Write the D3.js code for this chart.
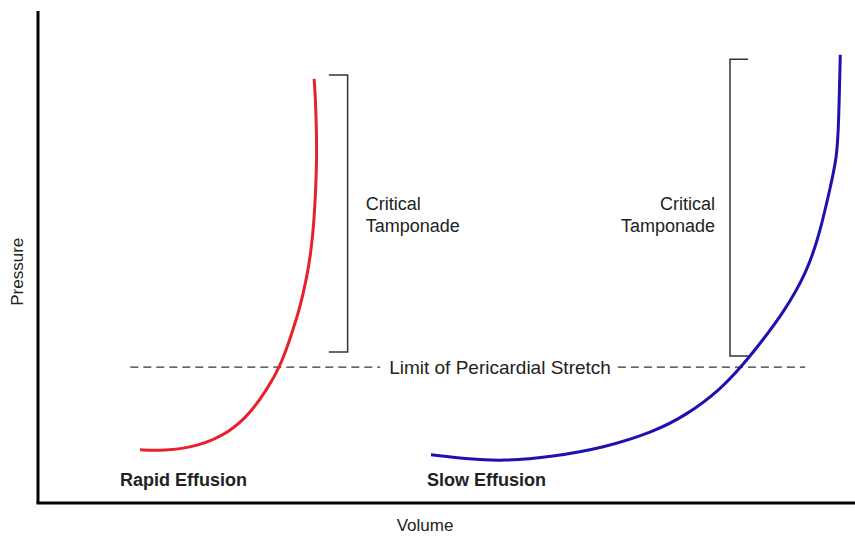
<!DOCTYPE html>
<html>
<head>
<meta charset="utf-8">
<script src="https://cdn.jsdelivr.net/npm/d3@7"></script>
<style>
  body { margin: 0; background: #fff; }
  text { font-family: "Liberation Sans", Arial, sans-serif; fill: #222; }
</style>
</head>
<body>
<svg id="chart" width="855" height="536"></svg>
<script>
// pressure-volume curves, volume and pressure on a 0-100 scale
let rapidVolume   = [12.5, 15.3, 19.5, 23.5, 26.0, 28.0, 29.6, 30.8, 32.1, 32.9, 33.4, 33.8, 34.0, 34.15, 34.0, 33.8];
let rapidPressure = [10.8, 10.6, 11.4, 14.4, 18.3, 23.0, 27.6, 33.1, 39.8, 45.9, 50.8, 57.5, 64.2, 71.1, 81.3, 86.2];

let slowVolume   = [48.1, 52.9, 56.9, 63.0, 69.2, 75.3, 79.4, 83.5, 86.3, 88.7, 91.2, 94.1, 95.7, 96.9, 97.8, 98.0, 98.2];
let slowPressure = [9.8, 8.9, 8.5, 9.4, 11.2, 14.4, 17.9, 23.0, 28.1, 33.1, 38.6, 46.8, 54.9, 63.6, 70.3, 77.2, 91.1];

// limit of pericardial stretch
let stretchLimit = 27.6;
let stretchExtent = [11.3, 93.9];

// critical tamponade brackets: [volume, pressure low, pressure high, tick volume]
let rapidBracket = [37.9, 30.7, 87.0, 35.6];
let slowBracket  = [84.7, 29.9, 90.2, 86.9];

let svg = d3.select("#chart");

let x = d3.scaleLinear().domain([0, 100]).range([38, 855]);
let y = d3.scaleLinear().domain([0, 100]).range([503, 11]);

// axes (no ticks)
svg.append("line")
  .attr("x1", x(0)).attr("x2", x(0))
  .attr("y1", y(100)).attr("y2", y(0))
  .style("stroke", "#000").style("stroke-width", 3);
svg.append("line")
  .attr("x1", x(0) - 1.5).attr("x2", x(100))
  .attr("y1", y(0)).attr("y2", y(0))
  .style("stroke", "#000").style("stroke-width", 3);

svg.append("text")
  .attr("transform", "translate(23," + y(47) + ") rotate(-90)")
  .attr("text-anchor", "middle")
  .style("font-size", "17px")
  .text("Pressure");
svg.append("text")
  .attr("x", 425).attr("y", 531)
  .attr("text-anchor", "middle")
  .style("font-size", "17px")
  .text("Volume");

// dashed stretch line, broken around its label
let label = svg.append("text")
  .attr("x", 500).attr("y", y(stretchLimit) + 7)
  .attr("text-anchor", "middle")
  .style("font-size", "19px")
  .text("Limit of Pericardial Stretch");
let bb = label.node().getBBox();

[[x(stretchExtent[0]), bb.x - 9], [bb.x + bb.width + 7, x(stretchExtent[1])]].forEach(function (seg)
{
  svg.append("line")
    .attr("x1", seg[0]).attr("x2", seg[1])
    .attr("y1", y(stretchLimit)).attr("y2", y(stretchLimit))
    .style("stroke", "#333")
    .style("stroke-width", 1.2)
    .style("stroke-dasharray", "8,5");
});

// brackets
function drawBracket(b)
{
  let path = d3.path();
  path.moveTo(x(b[3]), y(b[2]));
  path.lineTo(x(b[0]), y(b[2]));
  path.lineTo(x(b[0]), y(b[1]));
  path.lineTo(x(b[3]), y(b[1]));
  svg.append("path")
    .attr("d", path.toString())
    .style("fill", "none")
    .style("stroke", "#333")
    .style("stroke-width", 1.5);
}
drawBracket(rapidBracket);
drawBracket(slowBracket);

function bracketLabel(px, anchor)
{
  let t = svg.append("text")
    .attr("text-anchor", anchor)
    .style("font-size", "18px");
  t.append("tspan").attr("x", px).attr("y", 210).text("Critical");
  t.append("tspan").attr("x", px).attr("y", 232).text("Tamponade");
}
bracketLabel(x(rapidBracket[0]) + 18, "start");
bracketLabel(x(slowBracket[0]) - 15, "end");

// curves, smoothed through the read-off points
let line = d3.line()
  .x(function (d) { return x(d[0]); })
  .y(function (d) { return y(d[1]); })
  .curve(d3.curveBasis);

svg.append("path")
  .attr("d", line(d3.zip(rapidVolume, rapidPressure)))
  .style("fill", "none")
  .style("stroke", "#e8202a")
  .style("stroke-width", 3);

svg.append("path")
  .attr("d", line(d3.zip(slowVolume, slowPressure)))
  .style("fill", "none")
  .style("stroke", "#1f10b0")
  .style("stroke-width", 3);

// curve names
svg.append("text")
  .attr("x", 120).attr("y", 486)
  .style("font-size", "18px").style("font-weight", "bold")
  .text("Rapid Effusion");
svg.append("text")
  .attr("x", 427).attr("y", 486)
  .style("font-size", "18px").style("font-weight", "bold")
  .text("Slow Effusion");
</script>
</body>
</html>
